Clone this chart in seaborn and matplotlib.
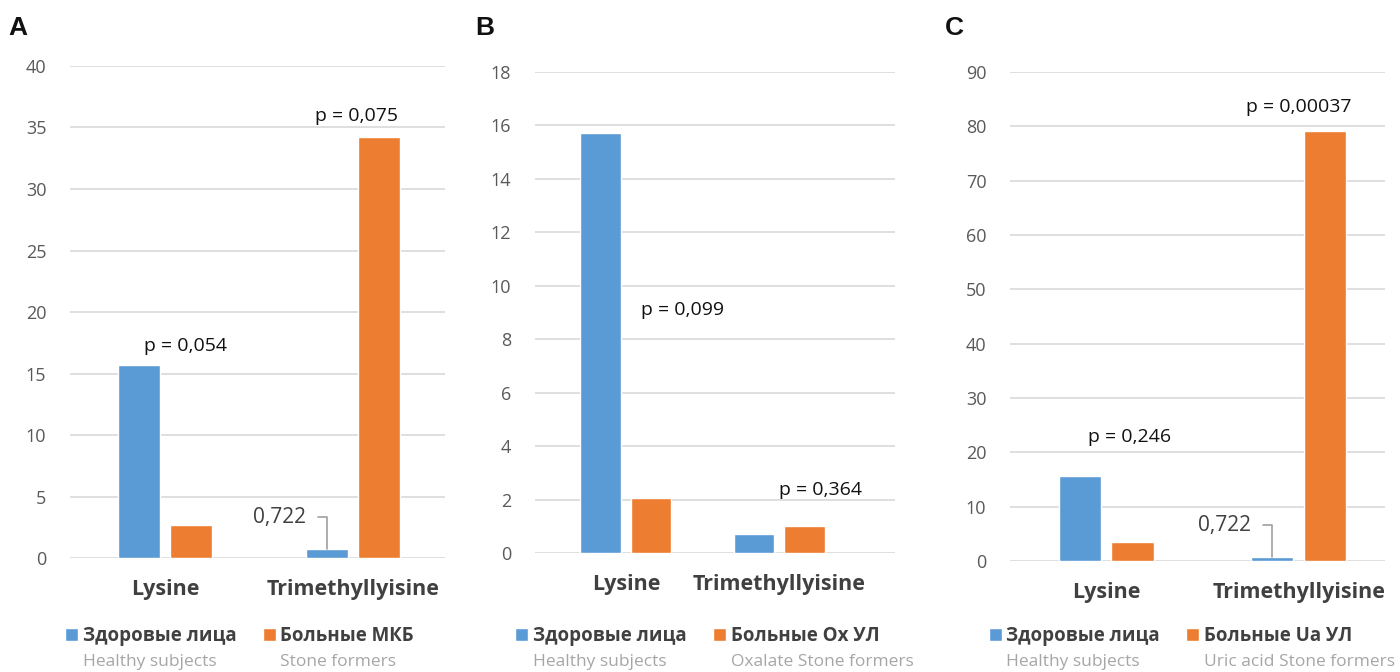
import matplotlib
matplotlib.use("Agg")
import matplotlib.pyplot as plt
import seaborn as sns
import pandas as pd
from matplotlib.patches import Patch

# --- Dados ---
amino = ["Lysine", "Trimethyllyisine"]

healthy_a = [15.7, 0.722]
stone_a = [2.7, 34.2]
healthy_b = [15.7, 0.72]
stone_b = [2.05, 1.0]
healthy_c = [15.7, 0.722]
stone_c = [3.5, 79.2]

label_healthy = "Здоровые лица"
label_healthy_en = "Healthy subjects"
labels_stone = ["Больные МКБ", "Больные Ох УЛ", "Больные Ua УЛ"]
labels_stone_en = ["Stone formers", "Oxalate Stone formers", "Uric acid Stone formers"]
p_values = [["p = 0,054", "p = 0,075"], ["p = 0,099", "p = 0,364"], ["p = 0,246", "p = 0,00037"]]
small_label = "0,722"

# --- Estilo ---
sns.set_style("white")
plt.rcParams["font.family"] = ["Open Sans", "DejaVu Sans"]
blue, orange = "#5B9BD5", "#ED7D31"
grid_col = "#D9D9D9"

fig = plt.figure(figsize=(14, 6.72), dpi=100)

# layout de cada painel: posição dos eixos, limites, ticks, posições dos p-valores
paineis = [
    dict(letra="A", h=healthy_a, s=stone_a, rect=[0.050, 0.1696, 0.268, 0.7322],
         ylim=40, step=5, xlim=(-0.505, 1.49), width=0.55, p_pos=[(0.11, 17.2), (1.02, 35.9)],
         lx=0.013, legx=0.171, mini=True),
    dict(letra="B", h=healthy_b, s=stone_b, rect=[0.382, 0.1771, 0.257, 0.7158],
         ylim=18, step=2, xlim=(-0.593, 1.75), width=0.66, p_pos=[(0.37, 9.1), (1.27, 2.36)],
         lx=0.346, legx=0.498, mini=False),
    dict(letra="C", h=healthy_c, s=stone_c, rect=[0.7214, 0.1652, 0.268, 0.7277],
         ylim=90, step=10, xlim=(-0.5, 1.45), width=0.55, p_pos=[(0.12, 22.8), (1.0, 83.6)],
         lx=0.682, legx=0.836, mini=True),
]

legendas = []
for i, p in enumerate(paineis):
    ax = fig.add_axes(p["rect"])
    df = pd.DataFrame({
        "amino": amino * 2,
        "grupo": ["healthy"] * 2 + ["stone"] * 2,
        "valor": p["h"] + p["s"],
    })
    sns.barplot(data=df, x="amino", y="valor", hue="grupo", palette={"healthy": blue, "stone": orange},
                width=p["width"], gap=0.2, saturation=1, legend=False, ax=ax, errorbar=None, zorder=3)
    ax.set_ylim(0, p["ylim"])
    ax.set_yticks(range(0, p["ylim"] + 1, p["step"]))
    ax.set_xlim(*p["xlim"])
    ax.set_xlabel("")
    ax.set_ylabel("")
    ax.yaxis.grid(True, color=grid_col, linewidth=1.2, zorder=0)
    ax.set_axisbelow(True)
    for sp in ax.spines.values():
        sp.set_visible(False)
    ax.tick_params(axis="y", length=0, pad=17, labelsize=13, labelcolor="#595959")
    ax.tick_params(axis="x", length=0, pad=15, labelsize=15.5, labelcolor="#404040")
    for t in ax.get_xticklabels():
        t.set_fontweight("bold")

    # p-valores
    for txt, (px, py) in zip(p_values[i], p["p_pos"]):
        ax.text(px, py, txt, ha="center", va="center", fontsize=14, color="#111111")

    # rótulo 0,722 com linha de chamada
    if p["mini"]:
        bar = ax.containers[0][1]
        bx = bar.get_x() + bar.get_width() / 2
        ax.annotate(small_label, xy=(bx, bar.get_height()), xytext=(-15, 23), textcoords="offset points",
                    ha="right", va="center", fontsize=15, color="#404040",
                    arrowprops=dict(arrowstyle="-", color="#A0A0A0", lw=1.2, shrinkA=6, shrinkB=0,
                                    connectionstyle="angle,angleA=0,angleB=90,rad=0"))

    fig.text(p["lx"], 0.958, p["letra"], fontsize=19, fontweight="bold", family="Liberation Sans",
             ha="center", va="center", color="#111111")

    handles = [Patch(facecolor=blue), Patch(facecolor=orange)]
    leg = fig.legend(handles, [label_healthy, labels_stone[i]], ncol=2, loc="center",
                     bbox_to_anchor=(p["legx"], 0.0536), frameon=False,
                     prop={"size": 13.5, "weight": "bold"}, labelcolor="#404040",
                     handlelength=0.7, handleheight=0.7, handletextpad=0.25, columnspacing=1.4)
    legendas.append(leg)

# textos em inglês abaixo da legenda
fig.canvas.draw()
renderer = fig.canvas.get_renderer()
for i, leg in enumerate(legendas):
    for t, en in zip(leg.get_texts(), [label_healthy_en, labels_stone_en[i]]):
        bb = t.get_window_extent(renderer)
        fig.text(bb.x0 / fig.bbox.width, 0.015, en, fontsize=12.5, color="#A6A6A6", ha="left", va="center")

fig.savefig("out.png", dpi=100)
